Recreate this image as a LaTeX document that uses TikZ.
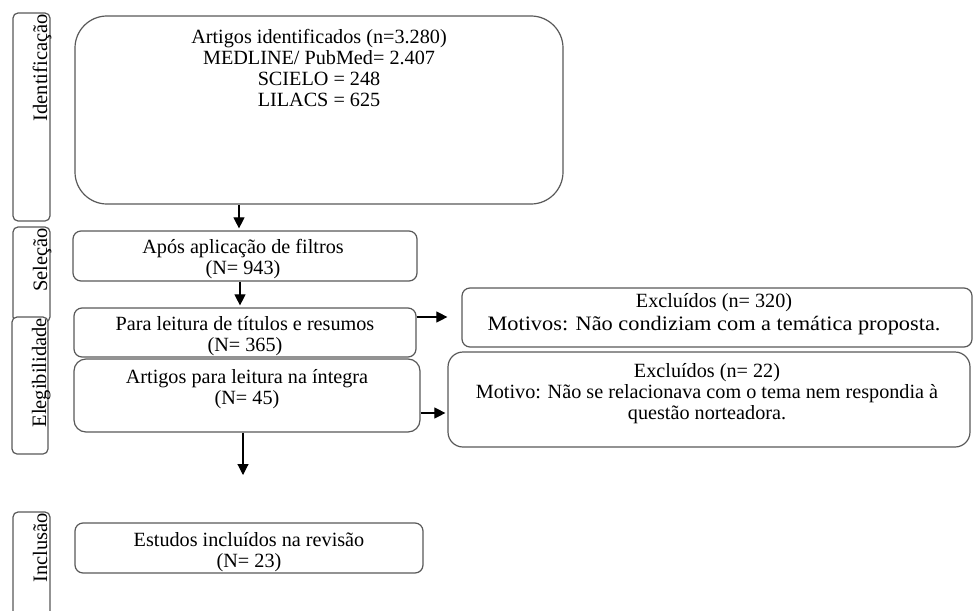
\documentclass[tikz,border=0pt]{standalone}
\usepackage{fontspec}
\setmainfont{Liberation Serif}
\usetikzlibrary{arrows.meta}
\begin{document}
\begin{tikzpicture}[x=1pt,y=-1pt,
  box/.style={draw=black!65, line width=1.2pt, fill=white, inner sep=0pt},
  lab/.style={rotate=90, anchor=base east, inner sep=0pt, font=\fontsize{20.5}{22}\selectfont},
  txt/.style={align=center, anchor=base, inner sep=0pt, font=\fontsize{20.2}{20.8}\selectfont},
  arr/.style={-{Triangle[length=11pt,width=11pt]}, line width=1.1pt, draw=black}]
\useasboundingbox (0,0) rectangle (973,610);
% stage labels
\node[box, rounded corners=5, minimum width=37, minimum height=208] (l1) at (31.5,117) {};
\node[lab] (l1t) at (47,14) {Identificação};
\node[box, rounded corners=5, minimum width=37, minimum height=95] (l2) at (31.5,274.5) {};
\node[lab] (l2t) at (47,228) {Seleção};
\node[box, rounded corners=5, minimum width=36, minimum height=137] (l3) at (30,385.5) {};
\node[lab] (l3t) at (46,318) {Elegibilidade};
\node[box, rounded corners=5, minimum width=37, minimum height=110] (l4) at (31.5,567) {};
\node[lab] (l4t) at (47,513) {Inclusão};
% main boxes
\node[box, rounded corners=32, minimum width=488, minimum height=188] (b1) at (319,110) {};
\node[txt] (b1t) at (319,106) {Artigos identificados (n=3.280)\\MEDLINE/ PubMed= 2.407\\SCIELO = 248\\LILACS = 625};
\node[box, rounded corners=8, minimum width=344, minimum height=50] (b2) at (245,256) {};
\node[txt] (b2t) at (243,274) {Após aplicação de filtros\\(N= 943)};
\node[box, rounded corners=8, minimum width=342, minimum height=49] (b3) at (245,332.5) {};
\node[txt] (b3t) at (245,351) {Para leitura de títulos e resumos\\(N= 365)};
\node[box, rounded corners=12, minimum width=346, minimum height=73] (b4) at (247,395.5) {};
\node[txt] (b4t) at (247,404) {Artigos para leitura na íntegra\\(N= 45)};
\node[box, rounded corners=8, minimum width=510, minimum height=59] (e1) at (717,317.5) {};
\node[txt] (e1t) at (714,330) {Excluídos (n= 320)\\[1.5pt]\scalebox{1.09}[1]{\fontsize{20.5}{21}\selectfont Motivos: Não condiziam com a temática proposta.}};
\node[box, rounded corners=15, minimum width=522, minimum height=95] (e2) at (709,399.5) {};
\node[txt] (e2t) at (707,419) {Excluídos (n= 22)\\Motivo: Não se relacionava com o tema nem respondia à\\questão norteadora.};
\node[box, rounded corners=8, minimum width=348, minimum height=50] (b5) at (249,548) {};
\node[txt] (b5t) at (249,567) {Estudos incluídos na revisão\\(N= 23)};
% connectors
\coordinate (down) at (243,475);
\draw[arr, shorten >=2pt] (239,0 |- b1.south) -- (239,0 |- b2.north);
\draw[arr, shorten >=2pt] (240,0 |- b2.south) -- (240,0 |- b3.north);
\draw[arr, shorten >=14pt] (b3.east |- 0,317) -- (e1.west |- 0,317);
\draw[arr, shorten >=2pt] (b4.east |- 0,413) -- (e2.west |- 0,413);
\draw[arr] (243,0 |- b4.south) -- (down);
\end{tikzpicture}
\end{document}
